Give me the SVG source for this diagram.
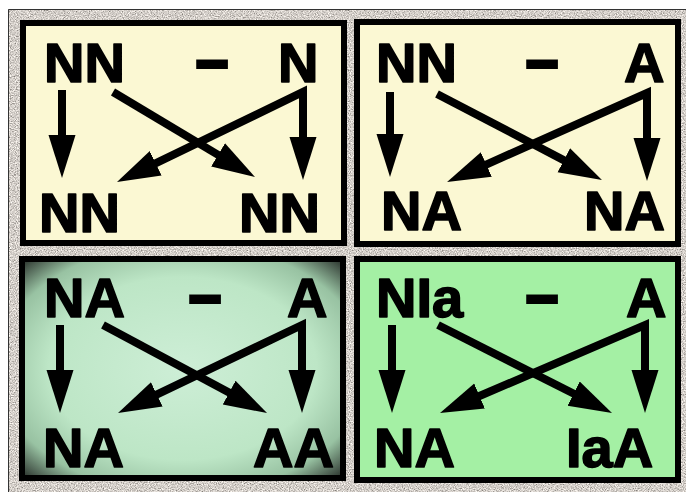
<svg xmlns="http://www.w3.org/2000/svg" width="686" height="492" viewBox="0 0 686 492">
  <defs>
    <filter id="grain" x="0" y="0" width="100%" height="100%">
      <feTurbulence type="fractalNoise" baseFrequency="0.85" numOctaves="2" seed="7" result="n"/>
      <feColorMatrix in="n" type="matrix" values="1.3 0 0 0 0.0  1.25 0 0 0 -0.01  1.2 0 0 0 -0.02  0 0 0 0 1" result="g"/>
      <feComposite in="g" in2="SourceGraphic" operator="in"/>
    </filter>
    <radialGradient id="vig" cx="0.5" cy="0.5" r="0.72">
      <stop offset="0" stop-color="#cdeed6"/>
      <stop offset="0.58" stop-color="#bde6c6"/>
      <stop offset="0.8" stop-color="#98c2a2"/>
      <stop offset="0.93" stop-color="#46564a"/>
      <stop offset="1" stop-color="#161a16"/>
    </radialGradient>
    <marker id="head" markerUnits="userSpaceOnUse" viewBox="0 -15 46 30" refX="2" refY="0" markerWidth="46" markerHeight="30" orient="auto-start-reverse">
      <path d="M0,-13.5 L43,0 L0,13.5 z" fill="#000"/>
    </marker>
    <style>
      .panel { stroke: #000; stroke-width: 6; }
      .lbl { font-family: "Liberation Sans", Arial, sans-serif; font-weight: bold; font-size: 56px; fill: #000; stroke: #000; stroke-width: 1.6; stroke-linejoin: round; }
      .dash { font-family: "Liberation Sans", Arial, sans-serif; font-weight: bold; font-size: 56px; fill: #000; stroke: #000; stroke-width: 4; text-anchor: middle; }
      .arr { fill: none; stroke: #000; stroke-width: 8; stroke-linejoin: miter; stroke-miterlimit: 10; }
    </style>
  </defs>
  <rect x="0" y="0" width="686" height="492" fill="#ffffff"/>
  <rect x="8" y="9" width="678" height="483" fill="#a09a94"/>
  <rect x="8" y="9" width="678" height="483" fill="#fff" filter="url(#grain)"/>
  <path d="M8.5,492 V9.5 H686" fill="none" stroke="#333" stroke-width="1"/>

  <g id="panel-nn-n">
    <rect class="panel" x="23" y="23" width="321" height="220" fill="#fbf8d3"/>
    <text class="lbl" x="44" y="82">NN</text>
    <text class="dash" x="212" y="79">–</text>
    <text class="lbl" x="278" y="82">N</text>
    <text class="lbl" x="39" y="232">NN</text>
    <text class="lbl" x="239" y="232">NN</text>
  </g>
  <g id="panel-nn-a">
    <rect class="panel" x="357" y="22" width="321" height="222" fill="#fbf8d3"/>
    <text class="lbl" x="376" y="82">NN</text>
    <text class="dash" x="542" y="79">–</text>
    <text class="lbl" x="624" y="82">A</text>
    <text class="lbl" x="381" y="230">NA</text>
    <text class="lbl" x="584" y="230">NA</text>
  </g>
  <g id="panel-na-a">
    <rect class="panel" x="22" y="259" width="321" height="219" fill="url(#vig)"/>
    <text class="lbl" x="44" y="317">NA</text>
    <text class="dash" x="205" y="314">–</text>
    <text class="lbl" x="287" y="317">A</text>
    <text class="lbl" x="43" y="467">NA</text>
    <text class="lbl" x="253" y="467">AA</text>
  </g>
  <g id="panel-nia-a">
    <rect class="panel" x="357" y="259" width="321" height="221" fill="#a4f0a4"/>
    <text class="lbl" x="376" y="317">NIa</text>
    <text class="dash" x="542" y="314">–</text>
    <text class="lbl" x="626" y="317">A</text>
    <text class="lbl" x="374" y="467">NA</text>
    <text class="lbl" x="566" y="467">IaA</text>
  </g>

  <g id="connectors">
    <path class="arr" d="M62,90 V137" marker-end="url(#head)"/>
    <path class="arr" d="M153.9,164.1 L303,92 V139" marker-start="url(#head)" marker-end="url(#head)"/>
    <path class="arr" d="M113,92 L219.8,155.9" marker-end="url(#head)"/>

    <path class="arr" d="M390,92 V136" marker-end="url(#head)"/>
    <path class="arr" d="M484.5,165.3 L647,93 V140" marker-start="url(#head)" marker-end="url(#head)"/>
    <path class="arr" d="M437,94 L565.6,161.1" marker-end="url(#head)"/>

    <path class="arr" d="M60,325 V372" marker-end="url(#head)"/>
    <path class="arr" d="M155,395.3 L302,325 V372" marker-start="url(#head)" marker-end="url(#head)"/>
    <path class="arr" d="M103,325 L230.9,393.6" marker-end="url(#head)"/>

    <path class="arr" d="M392,325 V372" marker-end="url(#head)"/>
    <path class="arr" d="M477.7,396.8 L645,325 V372" marker-start="url(#head)" marker-end="url(#head)"/>
    <path class="arr" d="M438,325 L575.4,394.5" marker-end="url(#head)"/>
  </g>
</svg>
